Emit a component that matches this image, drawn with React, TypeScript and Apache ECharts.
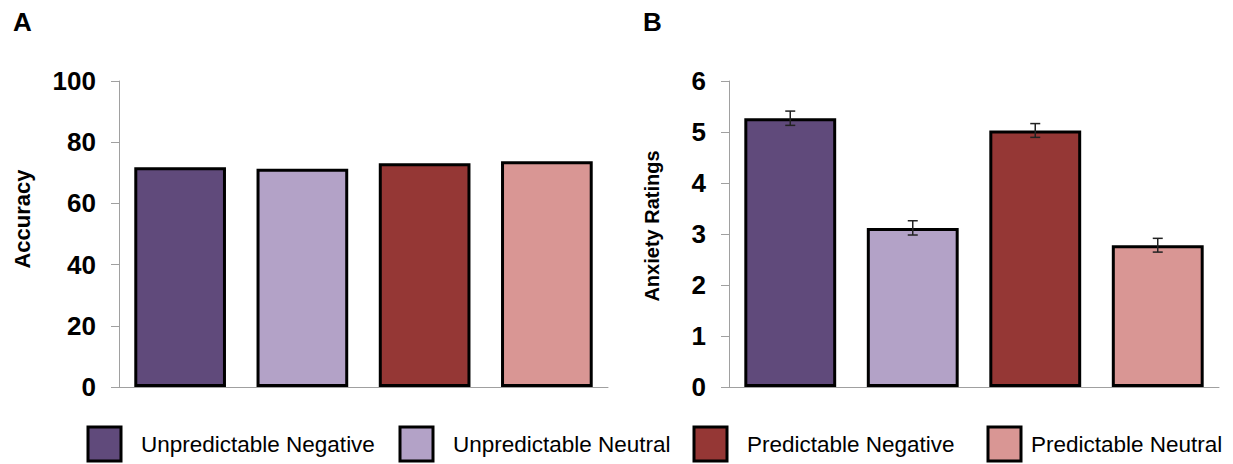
import React, { useEffect, useRef } from "react";
import * as echarts from "echarts";

const categories = [
  "Unpredictable Negative",
  "Unpredictable Neutral",
  "Predictable Negative",
  "Predictable Neutral",
];
const colors = ["#604A7B", "#B3A2C7", "#953735", "#D99694"];
const accuracy = [71.8, 71.3, 73.1, 73.8];
const anxiety = [5.27, 3.12, 5.03, 2.78];
const anxietyErr = [0.14, 0.14, 0.135, 0.135];
const accuracyTicks = { min: 0, max: 100, interval: 20 };
const anxietyTicks = { min: 0, max: 6, interval: 1 };

// layout (not data)
const legendBoxX = [88, 400, 694, 988];
const legendTextX = [141, 453, 747, 1031];

const FONT = "'Liberation Sans', Arial, sans-serif";

export default function App() {
  const ref = useRef<HTMLDivElement>(null);
  useEffect(() => {
    document.body.style.margin = "0";
    if (!ref.current) return;
    const chart = echarts.init(ref.current, undefined, { renderer: "svg" });
    const axisGrey = "#a0a0a0";
    const yAxisBase = (t: { min: number; max: number; interval: number }, gridIndex: number) => ({
      type: "value",
      gridIndex,
      min: t.min,
      max: t.max,
      interval: t.interval,
      axisLine: { show: true, lineStyle: { color: axisGrey, width: 1 } },
      axisTick: { show: true, length: 8, lineStyle: { color: axisGrey } },
      splitLine: { show: false },
      axisLabel: {
        margin: 23,
        fontSize: 26,
        fontWeight: "bold",
        color: "#000",
        fontFamily: FONT,
      },
    });
    const xAxisBase = (gridIndex: number) => ({
      type: "category",
      gridIndex,
      data: categories,
      axisLine: { show: true, lineStyle: { color: axisGrey, width: 1 } },
      axisTick: { show: false },
      axisLabel: { show: false },
    });
    const barData = (vals: number[]) =>
      vals.map((v, i) => ({
        value: v,
        itemStyle: { color: colors[i], borderColor: "#000", borderWidth: 3 },
      }));

    const graphics: any[] = [
      {
        type: "text",
        left: 13,
        top: 9,
        style: { text: "A", fontSize: 26, fontWeight: "bold", fontFamily: FONT, fill: "#000" },
      },
      {
        type: "text",
        left: 643,
        top: 9,
        style: { text: "B", fontSize: 26, fontWeight: "bold", fontFamily: FONT, fill: "#000" },
      },
      {
        type: "text",
        x: 22,
        y: 219,
        rotation: Math.PI / 2,
        style: {
          text: "Accuracy",
          fontSize: 22,
          fontWeight: "bold",
          fontFamily: FONT,
          fill: "#000",
          align: "center",
          verticalAlign: "middle",
        },
      },
      {
        type: "text",
        x: 652,
        y: 226,
        rotation: Math.PI / 2,
        style: {
          text: "Anxiety Ratings",
          fontSize: 20,
          fontWeight: "bold",
          fontFamily: FONT,
          fill: "#000",
          align: "center",
          verticalAlign: "middle",
        },
      },
    ];
    categories.forEach((c, i) => {
      graphics.push({
        type: "rect",
        shape: { x: legendBoxX[i], y: 427, width: 33, height: 34 },
        style: { fill: colors[i], stroke: "#000", lineWidth: 3 },
      });
      graphics.push({
        type: "text",
        x: legendTextX[i],
        y: 444,
        style: {
          text: c,
          fontSize: 22.5,
          fontFamily: FONT,
          fill: "#000",
          verticalAlign: "middle",
        },
      });
    });

    chart.setOption({
      animation: false,
      grid: [
        { left: 119, top: 81, width: 489, height: 306 },
        { left: 729, top: 81, width: 490, height: 306 },
      ],
      xAxis: [xAxisBase(0), xAxisBase(1)],
      yAxis: [yAxisBase(accuracyTicks, 0), yAxisBase(anxietyTicks, 1)],
      series: [
        {
          type: "bar",
          xAxisIndex: 0,
          yAxisIndex: 0,
          barWidth: "75%",
          data: barData(accuracy),
        },
        {
          type: "bar",
          xAxisIndex: 1,
          yAxisIndex: 1,
          barWidth: "75%",
          data: barData(anxiety),
        },
        {
          type: "custom",
          xAxisIndex: 1,
          yAxisIndex: 1,
          z: 10,
          data: anxiety.map((v, i) => [i, v - anxietyErr[i], v + anxietyErr[i]]),
          renderItem: (params: any, api: any) => {
            const lo = api.coord([api.value(0), api.value(1)]);
            const hi = api.coord([api.value(0), api.value(2)]);
            const cap = 5;
            const st = { stroke: "#222", lineWidth: 1.5 };
            return {
              type: "group",
              children: [
                { type: "line", shape: { x1: lo[0], y1: lo[1], x2: hi[0], y2: hi[1] }, style: st },
                { type: "line", shape: { x1: lo[0] - cap, y1: lo[1], x2: lo[0] + cap, y2: lo[1] }, style: st },
                { type: "line", shape: { x1: hi[0] - cap, y1: hi[1], x2: hi[0] + cap, y2: hi[1] }, style: st },
              ],
            };
          },
        },
      ],
      graphic: graphics,
    });
    return () => chart.dispose();
  }, []);
  return <div ref={ref} style={{ width: 1233, height: 464 }} />;
}
